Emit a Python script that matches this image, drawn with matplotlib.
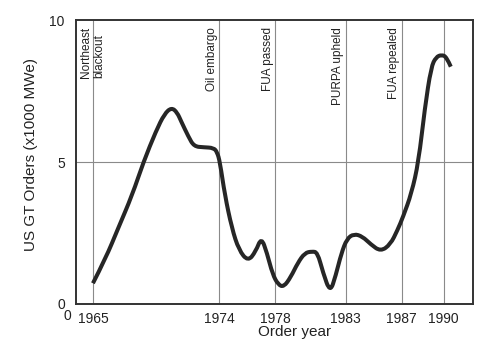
import numpy as np
import matplotlib.pyplot as plt
from matplotlib.path import Path
from matplotlib.patches import PathPatch

plt.rcParams['font.family'] = ['Liberation Sans', 'DejaVu Sans']

# curve (order year, x1000 MWe)
years = [1965.0, 1965.9, 1966.8, 1967.8, 1968.6, 1969.5, 1970.1, 1970.6, 1971.0,
         1971.3, 1971.8, 1972.2, 1972.9, 1973.6, 1973.85, 1974.05, 1974.4, 1974.9,
         1975.4, 1976.05, 1976.6, 1977.0, 1977.4, 1977.8, 1978.2, 1978.6, 1979.1,
         1979.6, 1980.1, 1980.6, 1981.0, 1981.4, 1981.9, 1982.3, 1982.7, 1983.1,
         1983.6, 1984.2, 1984.8, 1985.5, 1986.2, 1986.7, 1987.1, 1987.7, 1988.2,
         1988.65, 1989.1, 1989.45, 1989.85, 1990.2, 1990.5]
orders = [0.73, 1.6, 2.67, 3.84, 5.0, 6.1, 6.7, 6.92, 6.75,
          6.42, 5.9, 5.55, 5.52, 5.5, 5.35, 5.0, 3.84, 2.67,
          1.9, 1.5, 1.85, 2.35, 1.8, 1.05, 0.68, 0.6, 0.95,
          1.45, 1.8, 1.85, 1.82, 1.1, 0.4, 1.0, 1.78, 2.3,
          2.47, 2.38, 2.1, 1.85, 2.1, 2.6, 3.07, 3.9, 5.0,
          6.9, 8.35, 8.7, 8.78, 8.7, 8.36]

event_years = [1965, 1974, 1978, 1983, 1987, 1990]
event_labels = ['Northeast\nblackout', 'Oil embargo', 'FUA passed', 'PURPA upheld',
                'FUA repealed', None]
tick_years = [1965, 1974, 1978, 1983, 1987, 1990]

fig = plt.figure(figsize=(5.03, 3.47), dpi=100)
ax = fig.add_axes([0.151, 0.124, 0.789, 0.818])

for yr in event_years:
    ax.axvline(yr, color='#8a8a8a', lw=0.8, zorder=1)
ax.axhline(5, color='#8a8a8a', lw=0.8, zorder=1)

# smooth curve: read points used as quadratic bezier control points
pts = np.column_stack([years, orders])
verts = [pts[0]]
codes = [Path.MOVETO]
for i in range(1, len(pts) - 1):
    mid = (pts[i] + pts[i + 1]) / 2 if i < len(pts) - 2 else pts[i + 1]
    verts += [pts[i], mid]
    codes += [Path.CURVE3, Path.CURVE3]
curve = PathPatch(Path(verts, codes), facecolor='none', edgecolor='#262626',
                  lw=2.9, capstyle='butt', joinstyle='round', zorder=3)
ax.add_patch(curve)

for yr, lab in zip(event_years, event_labels):
    if lab is None:
        continue
    if '\n' in lab:
        ax.text(yr, 0.975, lab, rotation=90, ha='center', va='top',
                multialignment='left', fontsize=8.5, color='#222222',
                transform=ax.get_xaxis_transform(), linespacing=1.1)
    else:
        ax.text(yr - 0.12, 0.975, lab, rotation=90, ha='right', va='top',
                fontsize=8.5, color='#222222', transform=ax.get_xaxis_transform())

ax.set_xlim(1963.79, 1992.07)
ax.set_ylim(0, 10)
ax.set_xticks(tick_years)
ax.set_xticklabels([str(y) for y in tick_years])
ax.set_yticks([0, 5, 10])
ax.tick_params(axis='both', length=0, labelsize=10, colors='#222222')
ax.tick_params(axis='x', pad=6)
ax.tick_params(axis='y', pad=8)
ax.text(1963.15, -0.042, '0', ha='center', va='center', fontsize=10,
        color='#222222', transform=ax.get_xaxis_transform(), clip_on=False)

for s in ax.spines.values():
    s.set_color('#333333')
    s.set_linewidth(1.4)

ax.set_xlabel('Order year', fontsize=11, color='#222222')
ax.xaxis.set_label_coords(0.552, -0.075)
ax.set_ylabel('US GT Orders (x1000 MWe)', fontsize=11, color='#222222')
ax.yaxis.set_label_coords(-0.095, 0.525)

fig.savefig('out.png', dpi=100)
